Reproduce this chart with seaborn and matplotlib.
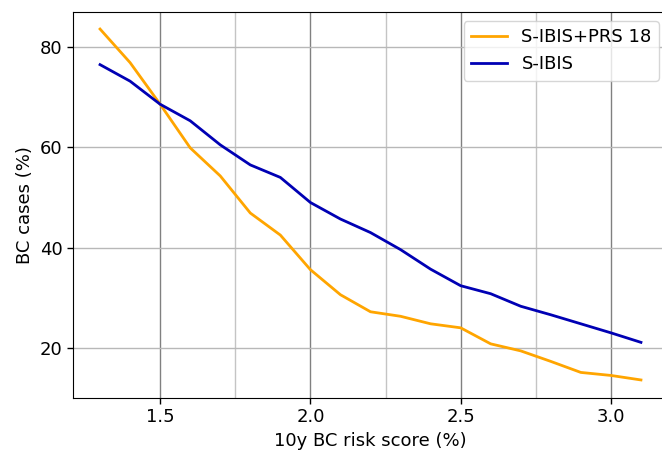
import numpy as np
import pandas as pd
import matplotlib
matplotlib.use("Agg")
import matplotlib.pyplot as plt
from matplotlib.ticker import MultipleLocator, FixedLocator
import seaborn as sns

FONTSIZE = 13

risk_score = [1.3, 1.4, 1.5, 1.6, 1.7, 1.8, 1.9, 2.0, 2.1, 2.2,
              2.3, 2.4, 2.5, 2.6, 2.7, 2.8, 2.9, 3.0, 3.1]
sibis_prs = [83.6, 76.9, 68.6, 59.9, 54.3, 46.9, 42.5, 35.6, 30.6, 27.2,
             26.3, 24.8, 24.0, 20.8, 19.4, 17.3, 15.1, 14.5, 13.6]
sibis = [76.5, 73.2, 68.6, 65.3, 60.5, 56.5, 54.0, 49.0, 45.7, 43.0,
         39.6, 35.7, 32.4, 30.8, 28.3, 26.6, 24.8, 23.0, 21.1]
minor_x = [1.75, 2.25, 2.75]

df = pd.DataFrame({'score': risk_score * 2,
                   'cases': sibis_prs + sibis,
                   'model': ['S-IBIS+PRS 18'] * len(risk_score) + ['S-IBIS'] * len(risk_score)})

plt.rcParams['font.family'] = ['DejaVu Sans']

fig = plt.figure(figsize=(6.62, 4.53), dpi=100)
ax = fig.add_axes([73 / 662, 1 - 398 / 453, (668 - 73) / 662, (398 - 12) / 453])

sns.lineplot(ax=ax, data=df, x='score', y='cases', hue='model',
             palette={'S-IBIS+PRS 18': '#FFA500', 'S-IBIS': '#0000B4'},
             linewidth=2, zorder=3)

ax.set_xlim(1.21, 3.19)
ax.set_ylim(10.0, 87.0)
ax.xaxis.set_major_locator(MultipleLocator(0.5))
ax.xaxis.set_minor_locator(FixedLocator(minor_x))
ax.yaxis.set_major_locator(MultipleLocator(20))
ax.grid(which='major', axis='x', color='#808080', linewidth=1)
ax.grid(which='minor', axis='x', color='#c4c4c4', linewidth=1)
ax.grid(which='major', axis='y', color='#b8b8b8', linewidth=1)
ax.set_axisbelow(True)
ax.tick_params(axis='both', which='major', labelsize=FONTSIZE, length=4, width=1,
               color='black', bottom=True, left=True)
ax.tick_params(axis='x', which='minor', bottom=False)

ax.set_xlabel('10y BC risk score (%)', fontsize=FONTSIZE)
ax.set_ylabel('BC cases (%)', fontsize=FONTSIZE)

leg = ax.legend(loc='upper right', fontsize=FONTSIZE, title=None, frameon=True)

fig.savefig('out.png', dpi=100)
